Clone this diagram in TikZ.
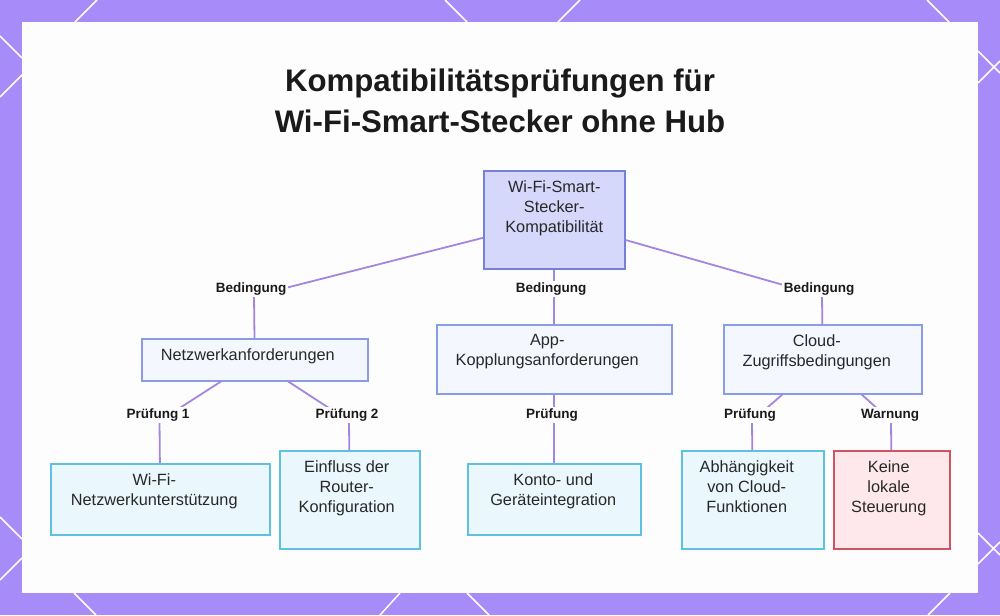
\documentclass[tikz,border=0pt]{standalone}
\usepackage{fontspec}
\setmainfont{Liberation Sans}
\definecolor{bgpurple}{RGB}{167,139,248}
\definecolor{panelc}{RGB}{253,253,253}
\definecolor{rootfill}{RGB}{214,216,251}
\definecolor{rootdraw}{RGB}{120,128,214}
\definecolor{midfill}{RGB}{245,247,255}
\definecolor{middraw}{RGB}{137,156,228}
\definecolor{cyanfill}{RGB}{234,247,253}
\definecolor{cyandraw}{RGB}{95,192,224}
\definecolor{pinkfill}{RGB}{254,232,236}
\definecolor{pinkdraw}{RGB}{206,84,100}
\definecolor{edgec}{RGB}{164,134,222}
\definecolor{txtc}{RGB}{40,40,40}
\definecolor{titlec}{RGB}{26,26,26}
\begin{document}
\begin{tikzpicture}[x=1pt,y=-1pt,
  deco/.style={draw=white, line width=1.5pt},
  boxbase/.style={rectangle, line width=1.5pt, anchor=north west, inner sep=0pt},
  rootbox/.style={boxbase, fill=rootfill, draw=rootdraw},
  midbox/.style={boxbase, fill=midfill, draw=middraw},
  cyanbox/.style={boxbase, fill=cyanfill, draw=cyandraw},
  pinkbox/.style={boxbase, fill=pinkfill, draw=pinkdraw},
  txt/.style={anchor=north, inner sep=0pt, align=center, text=txtc, font=\fontsize{16.3}{20}\selectfont},
  lbl/.style={fill=panelc, inner sep=1.5pt, text=titlec, font=\fontsize{13.5}{16}\selectfont\bfseries},
  edge/.style={draw=edgec, line width=1.8pt},
  titletxt/.style={anchor=base, inner sep=0pt, text=titlec, font=\fontsize{31.2}{40}\selectfont\bfseries}
]
\useasboundingbox (0,0) rectangle (1000,615);
\fill[bgpurple] (0,0) rectangle (1000,615);
% decorative lines on the purple frame
\draw[deco] (75,22) -- (97,0);
\draw[deco] (445,0) -- (467,22);
\draw[deco] (580,0) -- (558,22);
\draw[deco] (927,0) -- (949,22);
\draw[deco] (0,36) -- (22,58);
\draw[deco] (0,97) -- (22,75);
\draw[deco] (0,517) -- (22,539);
\draw[deco] (0,580) -- (22,558);
\draw[deco] (978,51) -- (1000,73);
\draw[deco] (978,83) -- (1000,61);
\draw[deco] (978,533) -- (1000,555);
\draw[deco] (978,564) -- (1000,542);
\draw[deco] (74,593) -- (96,615);
\draw[deco] (400,593) -- (380,615);
\draw[deco] (467,593) -- (489,615);
\draw[deco] (950,593) -- (928,615);
% panel
\fill[panelc] (22,22) rectangle (978,593);

% title
\node[titletxt] (title1) at (500,92) {Kompatibilitätsprüfungen für};
\node[titletxt] (title2) at (500,132) {Wi-Fi-Smart-Stecker ohne Hub};

% boxes
\node[rootbox, minimum width=141pt, minimum height=98pt] (root) at (483,170) {};
\node[midbox, minimum width=226pt, minimum height=42pt] (net) at (141,338) {};
\node[midbox, minimum width=235pt, minimum height=69pt] (app) at (436,324) {};
\node[midbox, minimum width=198pt, minimum height=69pt] (cloud) at (723,324) {};
\node[cyanbox, minimum width=219pt, minimum height=71pt] (wifi) at (50,463) {};
\node[cyanbox, minimum width=140pt, minimum height=98pt] (router) at (279,450) {};
\node[cyanbox, minimum width=173pt, minimum height=71pt] (konto) at (467,463) {};
\node[cyanbox, minimum width=142pt, minimum height=98pt] (abh) at (681,450) {};
\node[pinkbox, minimum width=116pt, minimum height=98pt] (keine) at (833,450) {};

% box texts
\node[txt] (root-t) at ([yshift=-10pt]root.north) {Wi-Fi-Smart-\\Stecker-\\Kompatibilität};
\node[txt] (net-t) at ([xshift=-7pt,yshift=-10pt]net.north) {Netzwerkanforderungen};
\node[txt] (app-t) at ([xshift=-7pt,yshift=-10pt]app.north) {App-\\Kopplungsanforderungen};
\node[txt] (cloud-t) at ([xshift=-6pt,yshift=-10pt]cloud.north) {Cloud-\\Zugriffsbedingungen};
\node[txt] (wifi-t) at ([xshift=-6pt,yshift=-10pt]wifi.north) {Wi-Fi-\\Netzwerkunterstützung};
\node[txt] (router-t) at ([xshift=-3pt,yshift=-10pt]router.north) {Einfluss der\\Router-\\Konfiguration};
\node[txt] (konto-t) at ([xshift=-1pt,yshift=-10pt]konto.north) {Konto- und\\Geräteintegration};
\node[txt] (abh-t) at ([xshift=-6pt,yshift=-10pt]abh.north) {Abhängigkeit\\von Cloud-\\Funktionen};
\node[txt] (keine-t) at ([xshift=-3pt,yshift=-10pt]keine.north) {Keine\\lokale\\Steuerung};

% bends
\coordinate (b1) at (254,296);
\coordinate (b3) at (822,296);
\coordinate (b4) at (159.5,421);
\coordinate (b5) at (349,421);
\coordinate (b6) at (752,421);
\coordinate (b7) at (891,421);

% connectors
\draw[edge] (root) -- (b1) -- (net);
\draw[edge] (root) -- (app);
\draw[edge] (root) -- (b3) -- (cloud);
\draw[edge] (net) -- (b4) -- (wifi);
\draw[edge] (net) -- (b5) -- (router);
\draw[edge] (app) -- (konto);
\draw[edge] (cloud) -- (b6) -- (abh);
\draw[edge] (cloud) -- (b7) -- (keine);

% labels
\node[lbl] (l1) at (251,289) {Bedingung};
\node[lbl] (l2) at (551,289) {Bedingung};
\node[lbl] (l3) at (819,289) {Bedingung};
\node[lbl] (l4) at (158,415) {Prüfung 1};
\node[lbl] (l5) at (347,415) {Prüfung 2};
\node[lbl] (l6) at (552,415) {Prüfung};
\node[lbl] (l7) at (750,415) {Prüfung};
\node[lbl] (l8) at (890,415) {Warnung};
\end{tikzpicture}
\end{document}
